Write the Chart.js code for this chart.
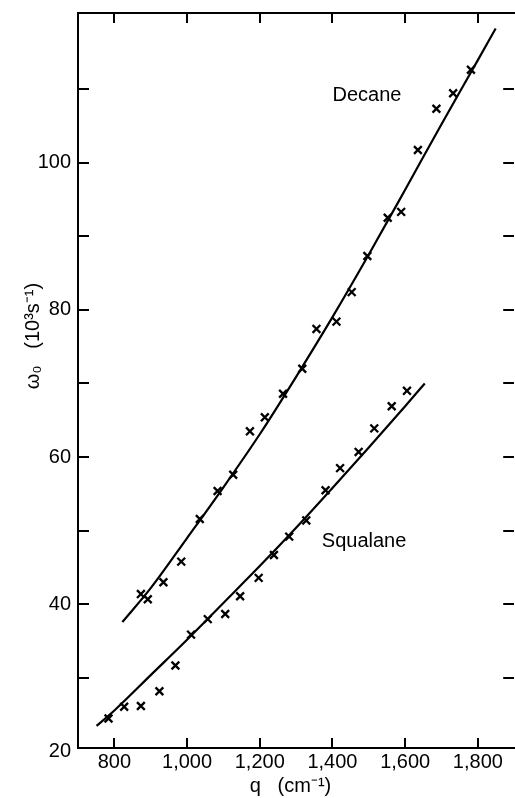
<!DOCTYPE html>
<html>
<head>
<meta charset="utf-8">
<style>
html,body{margin:0;padding:0;overflow:hidden;background:#fff;width:515px;height:798px}
canvas{display:block}
</style>
<script src="https://cdn.jsdelivr.net/npm/chart.js@4/dist/chart.umd.min.js"></script>
</head>
<body>
<canvas id="c" width="522" height="798"></canvas>
<script>
// ---- data ----
const decaneQ = [873, 892, 935, 984, 1035, 1084, 1127, 1173, 1214, 1264, 1317, 1356, 1411, 1453, 1496, 1552, 1589, 1635, 1686, 1732, 1781];
const decaneW = [41.4, 40.7, 43.0, 45.8, 51.6, 55.4, 57.6, 63.5, 65.4, 68.6, 72.0, 77.4, 78.4, 82.4, 87.3, 92.5, 93.3, 101.7, 107.3, 109.4, 112.6];
const squalaneQ = [784, 827, 873, 924, 968, 1011, 1057, 1105, 1146, 1197, 1239, 1281, 1328, 1381, 1421, 1472, 1515, 1563, 1605];
const squalaneW = [24.5, 26.1, 26.2, 28.2, 31.7, 35.9, 38.0, 38.7, 41.1, 43.6, 46.7, 49.2, 51.4, 55.5, 58.5, 60.7, 63.9, 66.9, 69.0];
const decaneFitQ = [822, 900, 1000, 1100, 1200, 1300, 1400, 1500, 1600, 1700, 1800, 1849];
const decaneFitW = [37.6, 42.2, 49.0, 55.9, 63.1, 70.9, 79.0, 87.5, 96.3, 105.2, 113.9, 118.2];
const squalaneFitQ = [751, 800, 900, 1000, 1100, 1200, 1300, 1400, 1500, 1600, 1654];
const squalaneFitW = [23.5, 25.6, 30.4, 35.2, 40.2, 45.2, 50.4, 55.8, 61.3, 66.9, 70.0];
const xTicks = [800, 1000, 1200, 1400, 1600, 1800];
const xTickLabels = ['800', '1,000', '1,200', '1,400', '1,600', '1,800'];
const yTicks = [20, 30, 40, 50, 60, 70, 80, 90, 100, 110];
const yTickLabels = ['20', '', '40', '', '60', '', '80', '', '100', ''];
const seriesNames = ['Decane', 'Squalane'];
const xTitle = 'q   (cm\u207B\u00B9)  ';
const yTitle = '                ω\u2080   (10\u00B3s\u207B\u00B9)';

const FONT = '"Liberation Sans", Arial, Helvetica, sans-serif';
Chart.defaults.font.family = FONT;
Chart.defaults.color = '#000';

const pts = (q, w) => q.map((v, i) => ({x: v, y: w[i]}));
const labelAnchors = [{q: 1495, w: 109.1}, {q: 1487, w: 48.5}];

const tickColor = c => (c.tick && c.tick.value === 20) ? 'rgba(0,0,0,0)' : '#000';
const setX = s => { s.ticks = xTicks.map(v => ({value: v})); };
const setY = s => { s.ticks = yTicks.map(v => ({value: v})); };
const noPad = s => { s.paddingTop = 0; s.paddingBottom = 0; s.paddingLeft = 0; s.paddingRight = 0; };
const gridX = {drawOnChartArea: false, tickLength: -10, color: '#000', lineWidth: 2};
const gridY = {drawOnChartArea: false, tickLength: -11, color: tickColor, lineWidth: 2};

const labelPlugin = {
  id: 'seriesLabels',
  afterDatasetsDraw(chart) {
    const {ctx, scales: {x, y}} = chart;
    ctx.save();
    ctx.font = '20px ' + FONT;
    ctx.fillStyle = '#000';
    ctx.textAlign = 'center';
    ctx.textBaseline = 'middle';
    seriesNames.forEach((n, i) => {
      ctx.fillText(n, x.getPixelForValue(labelAnchors[i].q), y.getPixelForValue(labelAnchors[i].w));
    });
    ctx.restore();
  }
};

const markerStyle = {pointStyle: 'crossRot', pointRadius: 5.5, pointBorderWidth: 2.3, borderColor: '#000', backgroundColor: '#000', showLine: false};
const lineStyle = {showLine: true, pointRadius: 0, borderWidth: 2.2, borderColor: '#000', fill: false, cubicInterpolationMode: 'monotone'};

new Chart(document.getElementById('c'), {
  type: 'scatter',
  data: {
    datasets: [
      Object.assign({label: 'Decane fit', data: pts(decaneFitQ, decaneFitW)}, lineStyle),
      Object.assign({label: 'Squalane fit', data: pts(squalaneFitQ, squalaneFitW)}, lineStyle),
      Object.assign({label: 'Decane', data: pts(decaneQ, decaneW)}, markerStyle),
      Object.assign({label: 'Squalane', data: pts(squalaneQ, squalaneW)}, markerStyle)
    ]
  },
  options: {
    responsive: false,
    animation: false,
    devicePixelRatio: 1,
    layout: {padding: {top: 13, right: 1, left: 0, bottom: 0}},
    plugins: {legend: {display: false}, tooltip: {enabled: false}},
    scales: {
      x: {
        type: 'linear', position: 'bottom', min: 700, max: 1900,
        afterBuildTicks: setX,
        afterFit: s => { s.height = 50; noPad(s); },
        border: {display: true, color: '#000', width: 2},
        grid: gridX,
        ticks: {autoSkip: false, maxRotation: 0, padding: 12, color: '#000', font: {size: 20},
                callback: (v, i) => xTickLabels[i]},
        title: {display: true, text: xTitle, color: '#000', font: {size: 20}, padding: {top: 0, bottom: 0}}
      },
      x2: {
        type: 'linear', position: 'top', min: 700, max: 1900,
        afterBuildTicks: setX,
        afterFit: s => { s.height = 0; noPad(s); },
        border: {display: true, color: '#000', width: 2},
        grid: gridX,
        ticks: {autoSkip: false, padding: 0, callback: () => ''}
      },
      y: {
        type: 'linear', position: 'left', min: 20.5, max: 120.3,
        afterBuildTicks: setY,
        afterFit: s => { s.width = 78; noPad(s); },
        border: {display: true, color: '#000', width: 2},
        grid: gridY,
        ticks: {autoSkip: false, padding: 18, color: '#000', font: {size: 20},
                callback: (v, i) => yTickLabels[i]},
        title: {display: true, text: yTitle, color: '#000', font: {size: 20}, padding: {top: 21, bottom: 0}}
      },
      y2: {
        type: 'linear', position: 'right', min: 20.5, max: 120.3,
        afterBuildTicks: setY,
        afterFit: s => { s.width = 0; noPad(s); },
        border: {display: false},
        grid: gridY,
        ticks: {autoSkip: false, padding: 0, callback: () => ''}
      }
    }
  },
  plugins: [labelPlugin]
});
</script>
</body>
</html>
